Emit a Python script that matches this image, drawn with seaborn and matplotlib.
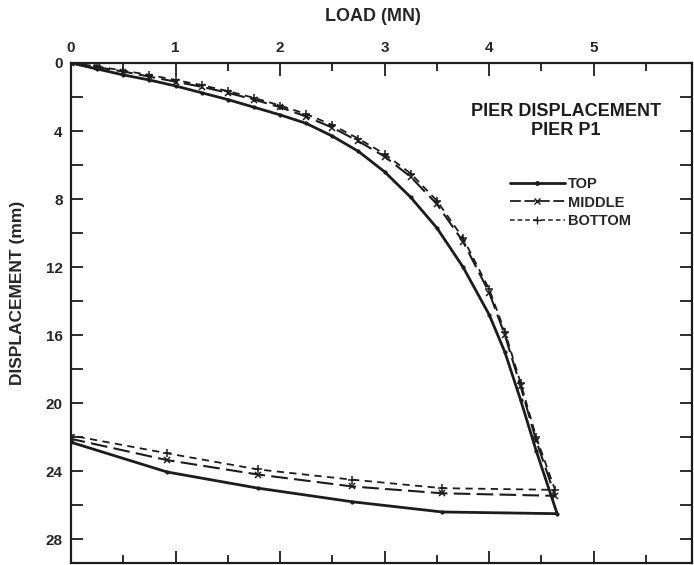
import matplotlib
matplotlib.use("Agg")
import matplotlib.pyplot as plt
from matplotlib.ticker import MultipleLocator, FuncFormatter
from matplotlib.lines import Line2D
import seaborn as sns
import pandas as pd

# ---- data (load in MN, displacement in mm) ----
load_up = [0, 0.25, 0.5, 0.75, 1.0, 1.25, 1.5, 1.75, 2.0, 2.25, 2.5, 2.75,
           3.0, 3.25, 3.5, 3.75, 4.0, 4.15, 4.3, 4.45]
top_up = [0, 0.35, 0.7, 1.0, 1.35, 1.75, 2.15, 2.6, 3.05, 3.55, 4.3, 5.2,
          6.4, 7.9, 9.7, 12.0, 14.8, 17.0, 19.8, 22.8]
mid_up = [0, 0.25, 0.5, 0.8, 1.1, 1.4, 1.75, 2.15, 2.6, 3.15, 3.8, 4.6,
          5.5, 6.7, 8.3, 10.5, 13.5, 16.0, 19.0, 22.2]
bot_up = [0, 0.2, 0.45, 0.7, 1.0, 1.3, 1.65, 2.05, 2.5, 3.0, 3.65, 4.45,
          5.35, 6.5, 8.1, 10.3, 13.3, 15.8, 18.8, 22.0]

top_peak = (4.65, 26.5)
mid_peak = (4.63, 25.45)
bot_peak = (4.63, 25.1)

load_down = [3.55, 2.69, 1.79, 0.92, 0.0]
top_down = [26.4, 25.8, 25.0, 24.05, 22.3]
mid_down = [25.3, 24.9, 24.2, 23.35, 22.1]
bot_down = [25.0, 24.5, 23.9, 22.95, 21.9]

x_ticks = [0, 1, 2, 3, 4, 5]
y_label_ticks = [0, 4, 8, 12, 16, 20, 24, 28]


def loop(up, peak, down):
    xs = load_up + [peak[0]] + load_down
    ys = up + [peak[1]] + down
    return pd.DataFrame({"load": xs, "disp": ys})


df_top = loop(top_up, top_peak, top_down)
df_mid = loop(mid_up, mid_peak, mid_down)
df_bot = loop(bot_up, bot_peak, bot_down)

sns.set_style("ticks")
plt.rcParams["font.family"] = ["Liberation Sans", "DejaVu Sans"]
plt.rcParams["font.weight"] = "bold"

ink = "#1c1c1c"
fig = plt.figure(figsize=(6.94, 5.65), dpi=100)
ax = fig.add_axes([71 / 694, 2 / 565, (692 - 71) / 694, (563 - 63) / 565])

sns.lineplot(data=df_top, x="load", y="disp", sort=False, estimator=None,
             ax=ax, color=ink, lw=2.0, marker=".", markersize=4.5,
             markeredgecolor=ink)
sns.lineplot(data=df_mid, x="load", y="disp", sort=False, estimator=None,
             ax=ax, color=ink, lw=1.5, linestyle=(0, (8, 3)), marker="x",
             markersize=4.5, markeredgewidth=1.1, markeredgecolor=ink)
sns.lineplot(data=df_bot, x="load", y="disp", sort=False, estimator=None,
             ax=ax, color=ink, lw=1.3, linestyle=(0, (4, 3)), marker="+",
             markersize=5.5, markeredgewidth=1.1, markeredgecolor=ink)

ax.set_xlim(0, 5.94)
ax.set_ylim(29.4, 0)

ax.xaxis.set_major_locator(plt.FixedLocator(x_ticks))
ax.xaxis.set_minor_locator(MultipleLocator(0.5))
ax.yaxis.set_major_locator(MultipleLocator(2))
ax.yaxis.set_major_formatter(FuncFormatter(
    lambda v, p: f"{int(round(v))}" if int(round(v)) in y_label_ticks else ""))

ax.tick_params(which="both", direction="in", top=True, bottom=True,
               left=True, right=True, labeltop=True, labelbottom=False,
               labelleft=True, labelright=False, color=ink, width=1.3)
ax.tick_params(axis="x", which="major", length=9, pad=5.5, labelsize=11)
ax.tick_params(axis="x", which="minor", length=5.5)
ax.tick_params(axis="y", which="major", length=8.5, pad=6, labelsize=11)
for lab in ax.get_xticklabels() + ax.get_yticklabels():
    lab.set_fontweight("bold")

for s in ax.spines.values():
    s.set_visible(True)
    s.set_linewidth(1.6)
    s.set_color(ink)

ax.set_xlabel("LOAD (MN)", fontsize=13, fontweight="bold")
ax.xaxis.set_label_position("top")
ax.xaxis.set_label_coords((373 - 71) / 621, 1 + (63 - 17) / 500)
ax.xaxis.label.set_va("center")
ax.set_ylabel("DISPLACEMENT (mm)", fontsize=12.5, fontweight="bold")
ax.yaxis.set_label_coords((18 - 71) / 621, 1 - (293 - 63) / 500)
ax.yaxis.label.set_va("center")

ax.text((566 - 71) / 621, 1 - (121 - 63) / 500, "PIER DISPLACEMENT\nPIER P1",
        transform=ax.transAxes, ha="center", va="center", fontsize=13,
        fontweight="bold", linespacing=1.15, color=ink)

handles = [
    Line2D([], [], color=ink, lw=2.0, marker=".", markersize=5),
    Line2D([], [], color=ink, lw=1.3, linestyle=(0, (6, 2)), marker="x",
           markersize=5),
    Line2D([], [], color=ink, lw=1.1, linestyle=(0, (3, 2)), marker="+",
           markersize=6),
]
leg = ax.legend(handles, ["TOP", "MIDDLE", "BOTTOM"], loc="upper left",
                bbox_to_anchor=(0.69, 0.792), frameon=False,
                handlelength=3.8, handletextpad=0.2, labelspacing=0.3,
                borderpad=0.2, prop={"weight": "bold", "size": 10.5})

fig.savefig("out.png", dpi=100)
